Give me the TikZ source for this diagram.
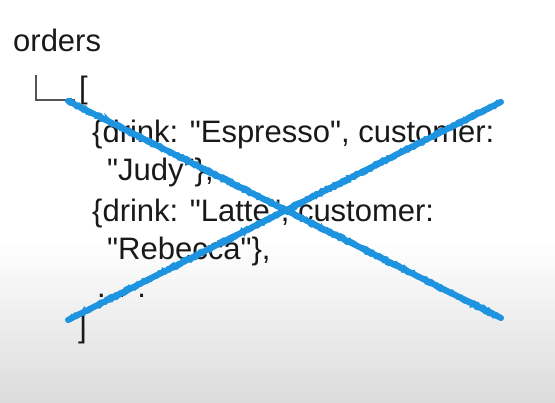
\documentclass[tikz,border=0pt]{standalone}
\usepackage{fontspec}
\usetikzlibrary{calc, decorations.pathmorphing}
\setmainfont{Liberation Sans}
\definecolor{marker}{RGB}{30,148,224}
\definecolor{elbow}{RGB}{85,85,85}
\newcommand{\qt}{\textquotedbl}

\begin{document}
\begin{tikzpicture}[x=1pt, y=-1pt,
                        code/.style={anchor=base west, inner sep=0pt, text=black!90, font=\fontsize{31}{37}\selectfont},
                        cross/.style={draw=marker, line width=6pt, line cap=round},
                        rough/.style={draw=marker, line width=2.5pt, line cap=round,
                                      decorate, decoration={random steps, segment length=2pt, amplitude=1.2pt}}]
                            \useasboundingbox (0, 0) rectangle (555, 403);
                            \fill[white] (0, 0) rectangle (555, 403);
                            \shade[top color=white, bottom color=gray!28] (0, 240) rectangle (555, 403);

                            \node (orders)[code] at (13, 52) {orders};
                            \node (open)[code] at (79, 99) {[};
                            \node (espresso)[code] at (92, 143) {\{drink: \qt Espresso\qt, customer:};
                            \node (judy)[code] at (107, 181) {\qt Judy\qt\},};
                            \node (latte)[code] at (92, 222) {\{drink: \qt Latte\qt, customer:};
                            \node (rebecca)[code] at (107, 260) {\qt Rebecca\qt\},};
                            \node (more)[code] at (97, 298) {. . .};
                            \node (close)[code] at (78, 338) {]};

                            \coordinate (elbowtop) at (36, 75);
                            \coordinate (elbowend) at (75, 100);
                            \draw [draw=elbow, line width=2pt] (elbowtop) |- (elbowend);

                            \coordinate (xa) at (68, 101);
                            \coordinate (xb) at (501, 318);
                            \coordinate (xc) at (68, 320);
                            \coordinate (xd) at (501, 102);
                            \draw [cross] (xa) edge (xb);
                            \draw [cross] (xc) edge (xd);
                            \draw [rough] ($(xa)+(0,-2)$) -- ($(xb)+(0,-2)$);
                            \draw [rough] ($(xa)+(0,2)$) -- ($(xb)+(0,2)$);
                            \draw [rough] ($(xc)+(0,-2)$) -- ($(xd)+(0,-2)$);
                            \draw [rough] ($(xc)+(0,2)$) -- ($(xd)+(0,2)$);
                        \end{tikzpicture}
\end{document}
